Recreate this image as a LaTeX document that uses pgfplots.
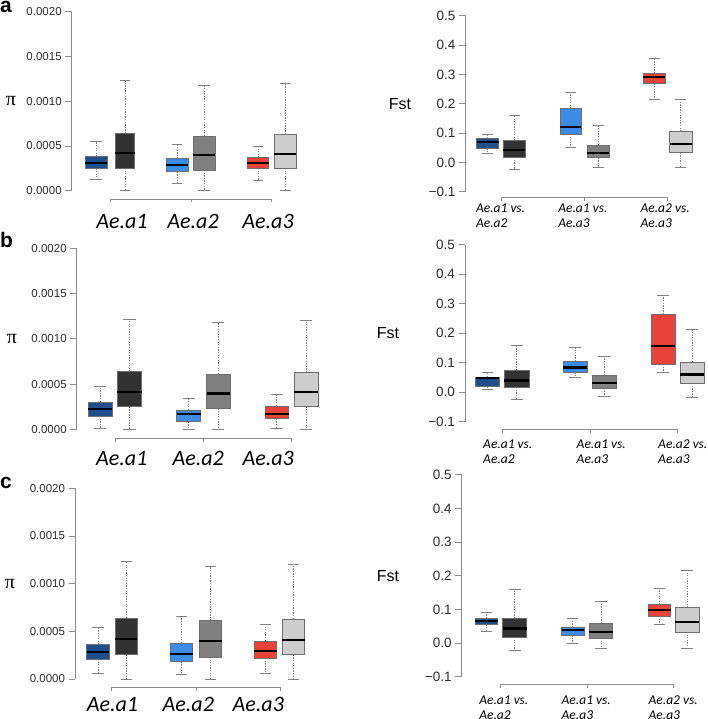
\documentclass[border=0pt]{standalone}
\usepackage{fontspec}
\setmainfont{Liberation Sans}
\newfontfamily\calib{Carlito}
\newfontfamily\tms{Liberation Serif}
\usepackage{pgfplots}
\pgfplotsset{compat=1.18}
\usepgfplotslibrary{statistics}

\definecolor{dblue}{RGB}{32,78,140}
\definecolor{lblue}{RGB}{58,140,230}
\definecolor{rred}{RGB}{232,66,58}
\definecolor{dgrey}{RGB}{50,50,50}
\definecolor{mgrey}{RGB}{128,128,128}
\definecolor{lgrey}{RGB}{205,205,205}
\definecolor{axgray}{RGB}{140,140,140}
\definecolor{tickgray}{RGB}{45,45,45}
\definecolor{boxedge}{RGB}{110,110,110}

\tikzset{
  whisk/.style={draw=gray, fill=none, line width=0.6pt, dash pattern=on 1.3pt off 1.3pt},
  capl/.style={draw=gray, fill=none, line width=0.6pt, solid},
}

\pgfplotsset{
  boxplot/draw direction=y,
  boxplot/draw/lower whisker/.code={%
    \draw[whisk] (boxplot box cs:\pgfplotsboxplotvalue{lower quartile},0.5)
      -- (boxplot box cs:\pgfplotsboxplotvalue{lower whisker},0.5);
    \draw[capl] (boxplot whisker cs:\pgfplotsboxplotvalue{lower whisker},0)
      -- (boxplot whisker cs:\pgfplotsboxplotvalue{lower whisker},1);
  },
  boxplot/draw/upper whisker/.code={%
    \draw[whisk] (boxplot box cs:\pgfplotsboxplotvalue{upper quartile},0.5)
      -- (boxplot box cs:\pgfplotsboxplotvalue{upper whisker},0.5);
    \draw[capl] (boxplot whisker cs:\pgfplotsboxplotvalue{upper whisker},0)
      -- (boxplot whisker cs:\pgfplotsboxplotvalue{upper whisker},1);
  },
  boxplot/every median/.style={draw=black, line width=2.2pt},
  base/.style={
    scale only axis, clip=false, enlargelimits=false,
    axis x line*=bottom, axis y line*=left,
    x axis line style={draw=none},
    y axis line style={draw=axgray, line width=0.7pt},
    xtick style={draw=none},
    ytick style={draw=axgray, line width=0.7pt},
    tick align=outside, major tick length=6.5pt,
    yticklabel style={text=tickgray},
  },
  % pi values are given in units of 1e-3
  pil/.style={base,
    ymin=0, ymax=2,
    ytick={0,0.5,1,1.5,2},
    yticklabels={0.0000,0.0005,0.0010,0.0015,0.0020},
    yticklabel style={font=\fontsize{11.5}{12}\selectfont},
    xticklabels={Ae.a1,Ae.a2,Ae.a3},
    xticklabel style={font=\calib\itshape\fontsize{22}{24}\selectfont, anchor=base},
  },
  fst/.style={base,
    ymin=-0.1, ymax=0.5,
    ytick={-0.1,0,0.1,0.2,0.3,0.4,0.5},
    yticklabels={−0.1,0.0,0.1,0.2,0.3,0.4,0.5},
    yticklabel style={font=\fontsize{13.5}{14}\selectfont},
    xticklabels={{Ae.a1 vs.\\Ae.a2},{Ae.a1 vs.\\Ae.a3},{Ae.a2 vs.\\Ae.a3}},
    xticklabel style={font=\calib\itshape\fontsize{13.5}{15}\selectfont, align=left, anchor=north},
  },
}

% position, width, lower whisker, lower quartile, median, upper quartile, upper whisker, colour
\newcommand{\bx}[8]{\addplot[draw=boxedge, line width=0.6pt, fill=#8,
  boxplot prepared={draw position=#1, box extend=#2, whisker extend=#2*0.5,
    lower whisker=#3, lower quartile=#4, median=#5,
    upper quartile=#6, upper whisker=#7}] coordinates {};}
% bracket below the boxes: y value, gap, gap plus tick length
\newcommand{\brk}[3]{\draw[axgray, line width=0.6pt]
  ([yshift=-#3]axis cs:1,#1) -- ([yshift=-#2]axis cs:1,#1)
  -- ([yshift=-#2]axis cs:3,#1) -- ([yshift=-#3]axis cs:3,#1)
  ([yshift=-#2]axis cs:2,#1) -- ([yshift=-#3]axis cs:2,#1);}

\begin{document}
\begin{tikzpicture}
\useasboundingbox (0,0) rectangle (708pt,-719pt);

\node[anchor=base west, inner sep=0, font=\bfseries\fontsize{21}{21}\selectfont] at (0pt,-13pt) {a};
\node[anchor=base west, inner sep=0, font=\bfseries\fontsize{21}{21}\selectfont] at (0pt,-247pt) {b};
\node[anchor=base west, inner sep=0, font=\bfseries\fontsize{21}{21}\selectfont] at (0pt,-488pt) {c};

% ---- a, pi
\begin{axis}[pil, at={(71.7pt,-190.7pt)}, anchor=south west,
  width=238.3pt, height=179pt, xmin=0.518, xmax=3.478,
  xtick={1.143,2.025,2.957}, xticklabel style={yshift=-31pt}]
\bx{0.820}{0.277}{0.127}{0.25}{0.313}{0.38}{0.547}{dblue}
\bx{1.180}{0.240}{0}{0.254}{0.421}{0.641}{1.23}{dgrey}
\bx{1.826}{0.270}{0.086}{0.212}{0.287}{0.357}{0.522}{lblue}
\bx{2.161}{0.277}{0}{0.231}{0.395}{0.611}{1.177}{mgrey}
\bx{2.832}{0.268}{0.12}{0.254}{0.309}{0.369}{0.5}{rred}
\bx{3.168}{0.273}{0}{0.254}{0.413}{0.63}{1.2}{lgrey}
\brk{0}{8.3pt}{11.8pt}
\node[font=\tms\fontsize{20}{20}\selectfont] at (rel axis cs:0,0.5) [xshift=-60.7pt] {π};
\end{axis}

% ---- a, Fst
\begin{axis}[fst, at={(465.5pt,-191.7pt)}, anchor=south west,
  width=240.5pt, height=176pt, xmin=0.574, xmax=3.461,
  xtick={0.995,1.983,2.970}, xticklabel style={yshift=-2pt}]
\bx{0.840}{0.264}{0.032}{0.048}{0.070}{0.082}{0.097}{dblue}
\bx{1.161}{0.264}{-0.022}{0.018}{0.042}{0.074}{0.16}{dgrey}
\bx{1.835}{0.250}{0.053}{0.097}{0.12}{0.183}{0.239}{lblue}
\bx{2.165}{0.264}{-0.016}{0.016}{0.032}{0.059}{0.125}{mgrey}
\bx{2.840}{0.260}{0.216}{0.269}{0.29}{0.304}{0.355}{rred}
\bx{3.158}{0.268}{-0.016}{0.033}{0.063}{0.105}{0.216}{lgrey}
\brk{-0.1}{6pt}{9.5pt}
\node[font=\fontsize{16}{16}\selectfont] at (rel axis cs:0,0.5) [xshift=-65.5pt] {Fst};
\end{axis}

% ---- b, pi
\begin{axis}[pil, at={(76.7pt,-429.3pt)}, anchor=south west,
  width=253.3pt, height=181pt, xmin=0.558, xmax=3.446,
  xtick={1.071,1.944,2.742}, xticklabel style={yshift=-29.2pt}]
\bx{0.827}{0.274}{0.011}{0.147}{0.221}{0.302}{0.478}{dblue}
\bx{1.160}{0.280}{0}{0.25}{0.415}{0.637}{1.22}{dgrey}
\bx{1.835}{0.274}{0}{0.084}{0.169}{0.213}{0.346}{lblue}
\bx{2.172}{0.266}{0}{0.231}{0.395}{0.611}{1.177}{mgrey}
\bx{2.839}{0.270}{0.01}{0.117}{0.173}{0.258}{0.39}{rred}
\bx{3.174}{0.270}{0}{0.254}{0.413}{0.63}{1.2}{lgrey}
\brk{0}{9pt}{12.5pt}
\node[font=\tms\fontsize{20}{20}\selectfont] at (rel axis cs:0,0.5) [xshift=-64.7pt] {π};
\end{axis}

% ---- b, Fst
\begin{axis}[fst, at={(465pt,-421.7pt)}, anchor=south west,
  width=243pt, height=177pt, xmin=0.569, xmax=3.346,
  xtick={1.058,2.126,3.058}, xticklabel style={yshift=-8pt}]
\bx{0.826}{0.270}{0.0115}{0.020}{0.048}{0.052}{0.066}{dblue}
\bx{1.160}{0.280}{-0.024}{0.017}{0.04}{0.074}{0.158}{dgrey}
\bx{1.830}{0.274}{0.05}{0.067}{0.084}{0.105}{0.151}{lblue}
\bx{2.163}{0.279}{-0.015}{0.014}{0.032}{0.057}{0.123}{mgrey}
\bx{2.832}{0.274}{0.068}{0.095}{0.156}{0.264}{0.33}{rred}
\bx{3.166}{0.278}{-0.017}{0.031}{0.06}{0.103}{0.213}{lgrey}
\brk{-0.1}{7.6pt}{11.1pt}
\node[font=\fontsize{16}{16}\selectfont] at (rel axis cs:0,0.5) [xshift=-77pt] {Fst};
\end{axis}

% ---- c, pi
\begin{axis}[pil, at={(75pt,-679pt)}, anchor=south west,
  width=245pt, height=190.7pt, xmin=0.563, xmax=3.473,
  xtick={1.008,1.909,2.740}, xticklabel style={yshift=-26.2pt}]
\bx{0.836}{0.268}{0.06}{0.21}{0.283}{0.36}{0.545}{dblue}
\bx{1.171}{0.265}{0}{0.254}{0.421}{0.641}{1.23}{dgrey}
\bx{1.825}{0.270}{0.052}{0.181}{0.262}{0.377}{0.66}{lblue}
\bx{2.170}{0.270}{0}{0.231}{0.395}{0.611}{1.177}{mgrey}
\bx{2.825}{0.266}{0.06}{0.22}{0.29}{0.4}{0.576}{rred}
\bx{3.158}{0.266}{0}{0.254}{0.413}{0.63}{1.2}{lgrey}
\brk{0}{8.3pt}{11.8pt}
\node[font=\tms\fontsize{20}{20}\selectfont] at (rel axis cs:0,0.5) [xshift=-65pt] {π};
\end{axis}

% ---- c, Fst
\begin{axis}[fst, at={(461.7pt,-676.7pt)}, anchor=south west,
  width=246.3pt, height=202pt, xmin=0.548, xmax=3.402,
  xtick={1.036,1.991,2.998}, xticklabel style={yshift=-9pt}]
\bx{0.833}{0.263}{0.035}{0.055}{0.065}{0.074}{0.092}{dblue}
\bx{1.162}{0.278}{-0.022}{0.018}{0.043}{0.074}{0.161}{dgrey}
\bx{1.835}{0.258}{-0.002}{0.023}{0.038}{0.047}{0.074}{lblue}
\bx{2.162}{0.270}{-0.017}{0.015}{0.033}{0.059}{0.124}{mgrey}
\bx{2.840}{0.258}{0.055}{0.08}{0.099}{0.114}{0.163}{rred}
\bx{3.161}{0.282}{-0.015}{0.033}{0.062}{0.105}{0.216}{lgrey}
\brk{-0.1}{7.6pt}{11.1pt}
\node[font=\fontsize{16}{16}\selectfont] at (rel axis cs:0,0.5) [xshift=-73.7pt] {Fst};
\end{axis}
\end{tikzpicture}
\end{document}
